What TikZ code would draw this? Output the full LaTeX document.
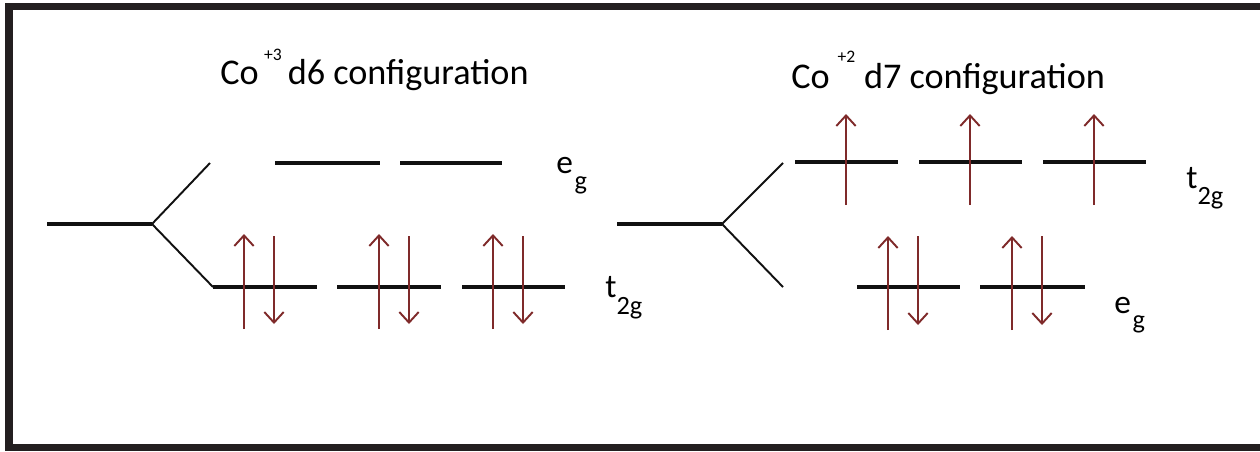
\documentclass[tikz,border=0pt]{standalone}
\usepackage{fontspec}
\setmainfont{Carlito}
\usetikzlibrary{arrows.meta}
\definecolor{levelcolor}{HTML}{111111}
\definecolor{spincolor}{HTML}{7F2A2A}
\definecolor{framecolor}{HTML}{231F20}

\begin{document}
\begin{tikzpicture}[x=0.02cm, y=-0.02cm,
  level/.style={draw=levelcolor, line width=2.3pt},
  branch/.style={draw=levelcolor, line width=1.1pt},
  spin/.style={draw=spincolor, line width=1.1pt,
    -{Straight Barb[length=6pt,width=11pt]}},
  title/.style={anchor=base west, inner sep=0pt,
    font=\fontsize{20.6}{24}\selectfont},
  orbital/.style={anchor=base west, inner sep=0pt,
    font=\fontsize{19}{23}\selectfont}]

%%=== COORDINATE PLAN (1 unit = 1 px of a 1260 x 451 canvas) ==========
%%  y grows downward; degenerate level y=224
%%  upper levels y=163, lower levels y=287
%%  left half: Co(+3) d6, right half: Co(+2) d7
%%=====================================================================
\useasboundingbox (0,0) rectangle (1260,451);

%% --- Frame (open on the right) --------------------------------------
\draw[framecolor, line width=4pt] (5,6.5) -- (1260,6.5);
\draw[framecolor, line width=4pt] (9,3) -- (9,451);
\draw[framecolor, line width=4pt] (5,447.5) -- (1260,447.5);

%% --- Titles ---------------------------------------------------------
\node[title] (titleL) at (220,84)
  {Co\hspace{3pt}\raisebox{13.5pt}{\fontsize{10}{12}\selectfont +3}\hspace{3.5pt}d6 configuration};
\node[title] (titleR) at (791,88)
  {Co\hspace{4.5pt}\raisebox{14.8pt}{\fontsize{10}{12}\selectfont +2}\hspace{5pt}d7 configuration};

%% --- Left splitting: Co(+3) -----------------------------------------
\coordinate (degL)  at (47,224);
\coordinate (forkL) at (152,224);
\coordinate (upL)   at (210,163);
\coordinate (lowL)  at (213,287);

\draw[level]  (degL) -- (forkL);
\draw[branch] (forkL) -- (upL);
\draw[branch] (forkL) -- (lowL);

%% e_g levels (empty)
\draw[level] (275,163) -- (380,163);
\draw[level] (400,163) -- (502,163);

%% t_2g levels
\draw[level] (lowL) -- (317,287);
\draw[level] (337,287) -- (441,287);
\draw[level] (462,287) -- (565,287);

%% paired spins
\draw[spin] (244,329) -- (244,234);
\draw[spin] (274,236) -- (274,324);
\draw[spin] (379,329) -- (379,234);
\draw[spin] (409,236) -- (409,324);
\draw[spin] (493,329) -- (493,234);
\draw[spin] (523,236) -- (523,324);

\node[orbital] (egL) at (556,173)
  {e\hspace{1pt}\raisebox{-9.5pt}{\fontsize{15}{18}\selectfont g}};
\node[orbital] (tL) at (605,297)
  {t\raisebox{-10pt}{\fontsize{15}{18}\selectfont 2g}};

%% --- Right splitting: Co(+2) ----------------------------------------
\coordinate (degR)  at (617,224);
\coordinate (forkR) at (722,224);
\coordinate (upR)   at (783,163);
\coordinate (lowR)  at (783,287);

\draw[level]  (degR) -- (forkR);
\draw[branch] (forkR) -- (upR);
\draw[branch] (forkR) -- (lowR);

%% t_2g levels (upper, singly occupied)
\draw[level] (795,162) -- (898,162);
\draw[level] (919,162) -- (1022,162);
\draw[level] (1043,162) -- (1146,162);

\draw[spin] (846,205) -- (846,114);
\draw[spin] (970,205) -- (970,114);
\draw[spin] (1094,205) -- (1094,114);

%% e_g levels (lower, paired)
\draw[level] (857,287) -- (960,287);
\draw[level] (980,287) -- (1085,287);

\draw[spin] (888,330) -- (888,236);
\draw[spin] (918,236) -- (918,325);
\draw[spin] (1012,330) -- (1012,236);
\draw[spin] (1042,236) -- (1042,325);

\node[orbital] (tR) at (1186,188)
  {t\raisebox{-9.5pt}{\fontsize{15}{18}\selectfont 2g}};
\node[orbital] (egR) at (1114,313)
  {e\hspace{1pt}\raisebox{-9pt}{\fontsize{15}{18}\selectfont g}};

\end{tikzpicture}
\end{document}
